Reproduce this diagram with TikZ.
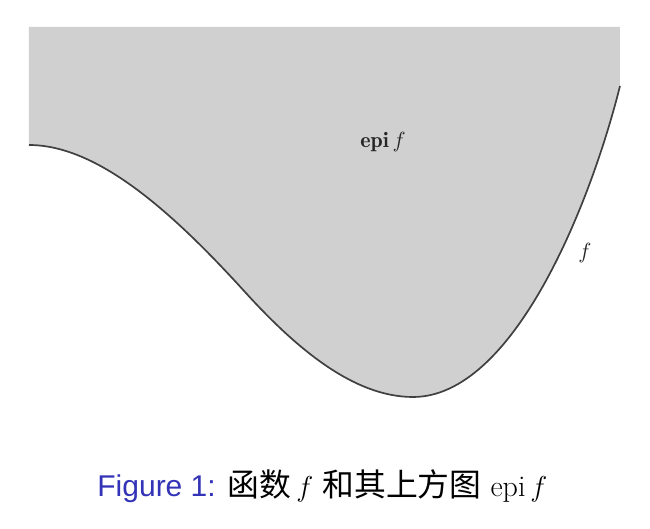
\documentclass[tikz,border=0pt]{standalone}
\usepackage{fontspec}
\setsansfont{Liberation Sans}
\newfontfamily\cjk[Scale=1.06]{Noto Sans CJK SC}
\definecolor{regiongray}{HTML}{D0D0D0}
\definecolor{curvegray}{HTML}{404040}
\definecolor{capblue}{rgb}{0.2,0.2,0.72}
\tikzset{
  curveline/.style={draw=curvegray, line width=0.85pt},
  figtext/.style={inner sep=0pt, text=black!85, font=\fontsize{11}{13}\selectfont},
  captext/.style={inner sep=0pt, font=\fontsize{15}{18}\selectfont}
}
\begin{document}
\begin{tikzpicture}[x=0.5pt,y=-0.5pt]
\useasboundingbox (0,0) rectangle (650,529);
\coordinate (s) at (29,145);
\coordinate (i) at (245,292);
\coordinate (m) at (413,397);
\coordinate (e) at (620,86);
\fill[regiongray] (29,27) -- (s)
  .. controls (99,145) and (175,215) .. (i)
  .. controls (295,347) and (353,397) .. (m)
  .. controls (513,397) and (590,206) .. (e)
  -- (620,27) -- cycle;
\draw[curveline] (s)
  .. controls (99,145) and (175,215) .. (i)
  .. controls (295,347) and (353,397) .. (m)
  .. controls (513,397) and (590,206) .. (e);
\node[figtext] (epilabel) at (383,142) {$\mathbf{epi}\,f$};
\node[figtext] (flabel) at (585,253) {$f$};
\node[captext, anchor=base west] (caption) at (97,497) {{\sffamily\color{capblue}Figure 1:} {\cjk 函数}\,$f$ {\cjk 和其上方图} $\mathrm{epi}\,f$};
\end{tikzpicture}
\end{document}
